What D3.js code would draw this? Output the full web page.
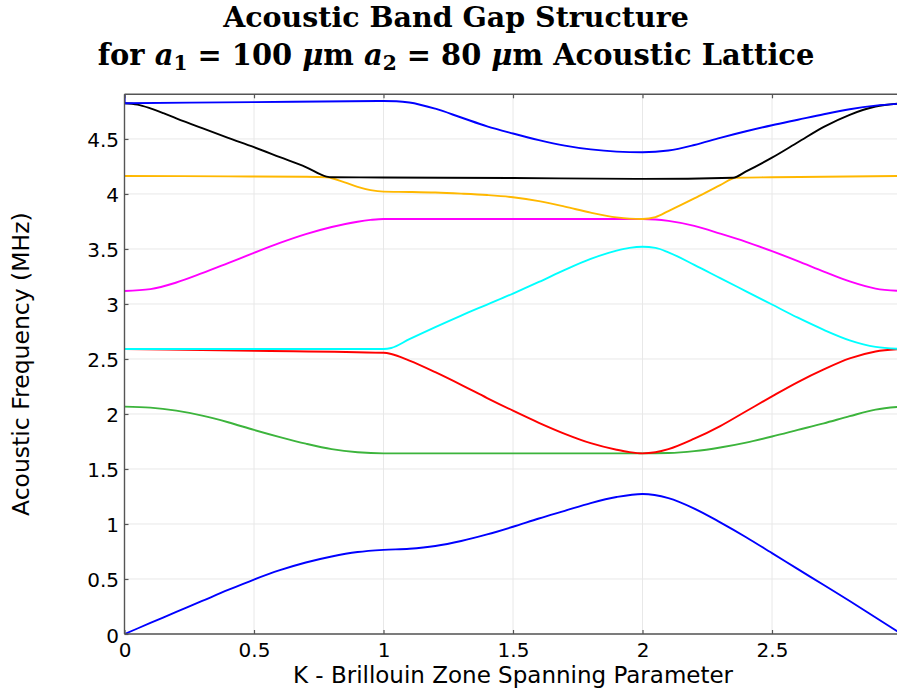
<!DOCTYPE html>
<html>
<head>
<meta charset="utf-8">
<script src="https://cdn.jsdelivr.net/npm/d3@7"></script>
<style>
  html, body { margin: 0; padding: 0; background: #ffffff; overflow: hidden; }
  svg { display: block; }
</style>
</head>
<body>
<div id="chart"></div>
<script>
// ---------------- DATA ----------------
const xTicks = [0, 0.5, 1, 1.5, 2, 2.5];
const xTickLabels = ["0", "0.5", "1", "1.5", "2", "2.5"];
const yTicks = [0, 0.5, 1, 1.5, 2, 2.5, 3, 3.5, 4, 4.5];
const yTickLabels = ["0", "0.5", "1", "1.5", "2", "2.5", "3", "3.5", "4", "4.5"];

const band1K = [0,0.1,0.2,0.3,0.4,0.5,0.6,0.7,0.8,0.9,1.0,1.1,1.2,1.3,1.4,1.5,1.6,1.7,1.8,1.9,2.0,2.1,2.2,2.3,2.4,2.5,2.6,2.7,2.8,2.9,3.0];
const band1V = [0,0.10,0.20,0.30,0.40,0.495,0.58,0.65,0.705,0.745,0.765,0.775,0.80,0.845,0.905,0.975,1.05,1.12,1.19,1.245,1.273,1.235,1.14,1.015,0.88,0.735,0.59,0.445,0.30,0.15,0.0];

const band2K = [0,0.1,0.2,0.3,0.4,0.5,0.6,0.7,0.8,0.9,1.0,1.5,2.0,2.1,2.2,2.3,2.4,2.5,2.6,2.7,2.8,2.9,3.0];
const band2V = [2.067,2.058,2.03,1.985,1.925,1.855,1.79,1.73,1.68,1.652,1.642,1.642,1.642,1.645,1.662,1.695,1.74,1.795,1.855,1.915,1.98,2.04,2.067];

const band3K = [0,0.5,1.0,1.03,1.1,1.2,1.3,1.4,1.5,1.6,1.7,1.8,1.9,1.95,2.0,2.05,2.1,2.2,2.3,2.4,2.5,2.6,2.7,2.8,2.9,3.0];
const band3V = [2.591,2.575,2.556,2.545,2.485,2.38,2.265,2.145,2.03,1.92,1.82,1.735,1.675,1.653,1.642,1.652,1.68,1.775,1.89,2.025,2.16,2.29,2.405,2.505,2.568,2.591];

const band4K = [0,1.0,1.03,1.1,1.2,1.3,1.4,1.5,1.6,1.7,1.8,1.9,1.95,2.0,2.05,2.1,2.2,2.3,2.4,2.5,2.6,2.7,2.8,2.9,3.0];
const band4V = [2.591,2.591,2.60,2.68,2.79,2.895,2.995,3.095,3.2,3.31,3.41,3.485,3.51,3.52,3.51,3.47,3.355,3.235,3.115,2.995,2.875,2.765,2.67,2.61,2.591];

const band5K = [0,0.1,0.2,0.3,0.4,0.5,0.6,0.7,0.8,0.9,0.95,1.0,1.5,2.0,2.05,2.1,2.2,2.3,2.4,2.5,2.6,2.7,2.8,2.9,3.0];
const band5V = [3.118,3.135,3.195,3.28,3.372,3.465,3.555,3.635,3.70,3.748,3.764,3.773,3.773,3.773,3.768,3.755,3.71,3.64,3.565,3.48,3.39,3.295,3.205,3.14,3.118];

const band6K = [0,0.4,0.7,0.78,0.85,0.9,0.95,1.0,1.1,1.2,1.3,1.4,1.5,1.6,1.7,1.8,1.9,1.95,2.0,2.05,2.1,2.2,2.3,2.36,2.5,2.7,3.0];
const band6V = [4.164,4.16,4.156,4.152,4.105,4.065,4.035,4.021,4.018,4.013,4.003,3.99,3.97,3.935,3.885,3.83,3.787,3.776,3.773,3.79,3.845,3.96,4.08,4.148,4.152,4.156,4.164];

const band7K = [0,0.05,0.1,0.15,0.2,0.3,0.4,0.5,0.6,0.7,0.78,0.8,1.0,1.5,2.0,2.35,2.4,2.5,2.6,2.7,2.8,2.9,3.0];
const band7V = [4.824,4.812,4.778,4.735,4.688,4.598,4.51,4.425,4.335,4.245,4.158,4.152,4.15,4.145,4.137,4.148,4.205,4.33,4.47,4.61,4.72,4.795,4.824];

const band8K = [0,0.5,1.0,1.05,1.1,1.2,1.3,1.4,1.5,1.6,1.7,1.8,1.9,2.0,2.1,2.2,2.3,2.4,2.5,2.6,2.7,2.8,2.9,3.0];
const band8V = [4.825,4.835,4.845,4.843,4.832,4.775,4.695,4.615,4.55,4.49,4.44,4.405,4.385,4.379,4.395,4.445,4.51,4.57,4.625,4.675,4.725,4.77,4.803,4.822];

const edgeK = [0, 0];
const edgeV = [4.95, 4.825];

const bandColors = ["#0000ff", "#3cb43c", "#ff0000", "#00ffff", "#ff00ff", "#ffb800", "#000000", "#0000ff"];

const titleLine1 = "Acoustic Band Gap Structure";
const xLabel = "K - Brillouin Zone Spanning Parameter";
const yLabel = "Acoustic Frequency (MHz)";

// ---------------- LAYOUT ----------------
const W = 897, H = 689;
const plotLeft = 124.5, plotRight = 901.5, plotTop = 94.3, plotBottom = 634;

const svg = d3.select("#chart").append("svg")
  .attr("width", W).attr("height", H)
  .attr("viewBox", `0 0 ${W} ${H}`);

svg.append("rect").attr("width", W).attr("height", H).attr("fill", "#fff");

const x = d3.scaleLinear().domain([0, 3]).range([plotLeft, plotRight]);
const y = d3.scaleLinear().domain([0, 4.906]).range([plotBottom, plotTop]);

// grid
const grid = svg.append("g");
grid.selectAll("line.gx").data(xTicks).join("line")
  .attr("x1", d => x(d)).attr("x2", d => x(d))
  .attr("y1", plotTop).attr("y2", plotBottom)
  .attr("stroke", "#e8e8e8").attr("stroke-width", 1);
grid.selectAll("line.gy").data(yTicks).join("line")
  .attr("x1", plotLeft).attr("x2", plotRight)
  .attr("y1", d => y(d)).attr("y2", d => y(d))
  .attr("stroke", "#e8e8e8").attr("stroke-width", 1);

// clip
svg.append("clipPath").attr("id", "plotclip")
  .append("rect").attr("x", plotLeft).attr("y", plotTop)
  .attr("width", plotRight - plotLeft).attr("height", plotBottom - plotTop);

const bands = [
  [band1K, band1V], [band2K, band2V], [band3K, band3V], [band4K, band4V],
  [band5K, band5V], [band6K, band6V], [band7K, band7V], [band8K, band8V]
];

const line = d3.line().x(d => x(d[0])).y(d => y(d[1])).curve(d3.curveMonotoneX);
const lineLin = d3.line().x(d => x(d[0])).y(d => y(d[1]));

const gLines = svg.append("g").attr("clip-path", "url(#plotclip)");
bands.forEach((b, i) => {
  const pts = b[0].map((k, j) => [k, b[1][j]]);
  gLines.append("path").datum(pts)
    .attr("d", line).attr("fill", "none")
    .attr("stroke", bandColors[i]).attr("stroke-width", 1.9)
    .attr("stroke-linejoin", "round");
});
gLines.append("path").datum(edgeK.map((k, j) => [k, edgeV[j]]))
  .attr("d", lineLin).attr("fill", "none")
  .attr("stroke", bandColors[7]).attr("stroke-width", 2.2);

// frame
const frameColor = "#555555";
svg.append("line").attr("x1", plotLeft).attr("x2", plotRight).attr("y1", plotBottom).attr("y2", plotBottom)
  .attr("stroke", frameColor).attr("stroke-width", 1.4);
svg.append("line").attr("x1", plotLeft).attr("x2", plotRight).attr("y1", plotTop).attr("y2", plotTop)
  .attr("stroke", frameColor).attr("stroke-width", 1.4);
svg.append("line").attr("x1", plotLeft).attr("x2", plotLeft).attr("y1", plotTop).attr("y2", plotBottom)
  .attr("stroke", frameColor).attr("stroke-width", 1.4);

// axes
const fontSans = "'DejaVu Sans', sans-serif";
const xAxis = d3.axisBottom(x).tickValues(xTicks).tickFormat((d, i) => xTickLabels[i])
  .tickSize(-4).tickPadding(8.8);
const gx = svg.append("g").attr("transform", `translate(0,${plotBottom})`).call(xAxis);
gx.select(".domain").remove();
gx.selectAll("line").attr("stroke", frameColor).attr("stroke-width", 1.2);
gx.selectAll("text").attr("font-family", fontSans).attr("font-size", 20).attr("fill", "#000");

const xAxisTop = d3.axisTop(x).tickValues(xTicks).tickFormat("").tickSize(-4);
const gxt = svg.append("g").attr("transform", `translate(0,${plotTop})`).call(xAxisTop);
gxt.select(".domain").remove();
gxt.selectAll("line").attr("stroke", frameColor).attr("stroke-width", 1.2);

const yAxis = d3.axisLeft(y).tickValues(yTicks).tickFormat((d, i) => yTickLabels[i])
  .tickSize(-4).tickPadding(5.5);
const gy = svg.append("g").attr("transform", `translate(${plotLeft},0)`).call(yAxis);
gy.select(".domain").remove();
gy.selectAll("line").attr("stroke", frameColor).attr("stroke-width", 1.2);
gy.selectAll("text").attr("font-family", fontSans).attr("font-size", 20).attr("fill", "#000")
  .attr("dy", "0.4em");

// axis labels
svg.append("text").attr("x", (plotLeft + plotRight) / 2).attr("y", 683.3)
  .attr("text-anchor", "middle").attr("font-family", fontSans).attr("font-size", 23)
  .attr("fill", "#000").text(xLabel);
svg.append("text").attr("transform", `translate(29,${(plotTop + plotBottom) / 2}) rotate(-90)`)
  .attr("text-anchor", "middle").attr("font-family", fontSans).attr("font-size", 23.5)
  .attr("fill", "#000").text(yLabel);

// title
const fontSerif = "'DejaVu Serif', serif";
const titleCx = 456;
const t1 = svg.append("text").attr("x", titleCx).attr("y", 27)
  .attr("text-anchor", "middle").attr("font-family", fontSerif).attr("font-weight", "bold")
  .attr("font-size", 24).attr("fill", "#000").text(titleLine1);
const w1 = t1.node().getComputedTextLength();
t1.attr("font-size", 24 * 466 / w1);

const t2 = svg.append("text").attr("x", titleCx).attr("y", 65)
  .attr("text-anchor", "middle").attr("font-family", fontSerif).attr("font-weight", "bold")
  .attr("font-size", 24).attr("fill", "#000");
const parts = [
  {t: "for ", s: "normal"},
  {t: "a", s: "italic"},
  {t: "1", s: "sub"},
  {t: " = 100 ", s: "normal"},
  {t: "μ", s: "italic"},
  {t: "m ", s: "normal"},
  {t: "a", s: "italic"},
  {t: "2", s: "sub"},
  {t: " = 80 ", s: "normal"},
  {t: "μ", s: "italic"},
  {t: "m Acoustic Lattice", s: "normal"}
];
let prevSub = false;
parts.forEach(p => {
  const ts = t2.append("tspan").text(p.t);
  if (p.s === "italic") ts.attr("font-style", "italic");
  if (p.s === "sub") { ts.attr("font-size", "0.7em").attr("dy", "0.25em"); prevSub = true; }
  else if (prevSub) { ts.attr("dy", "-0.175em"); prevSub = false; }
});
const w2 = t2.node().getComputedTextLength();
t2.attr("font-size", 24 * 717 / w2);
</script>
</body>
</html>
